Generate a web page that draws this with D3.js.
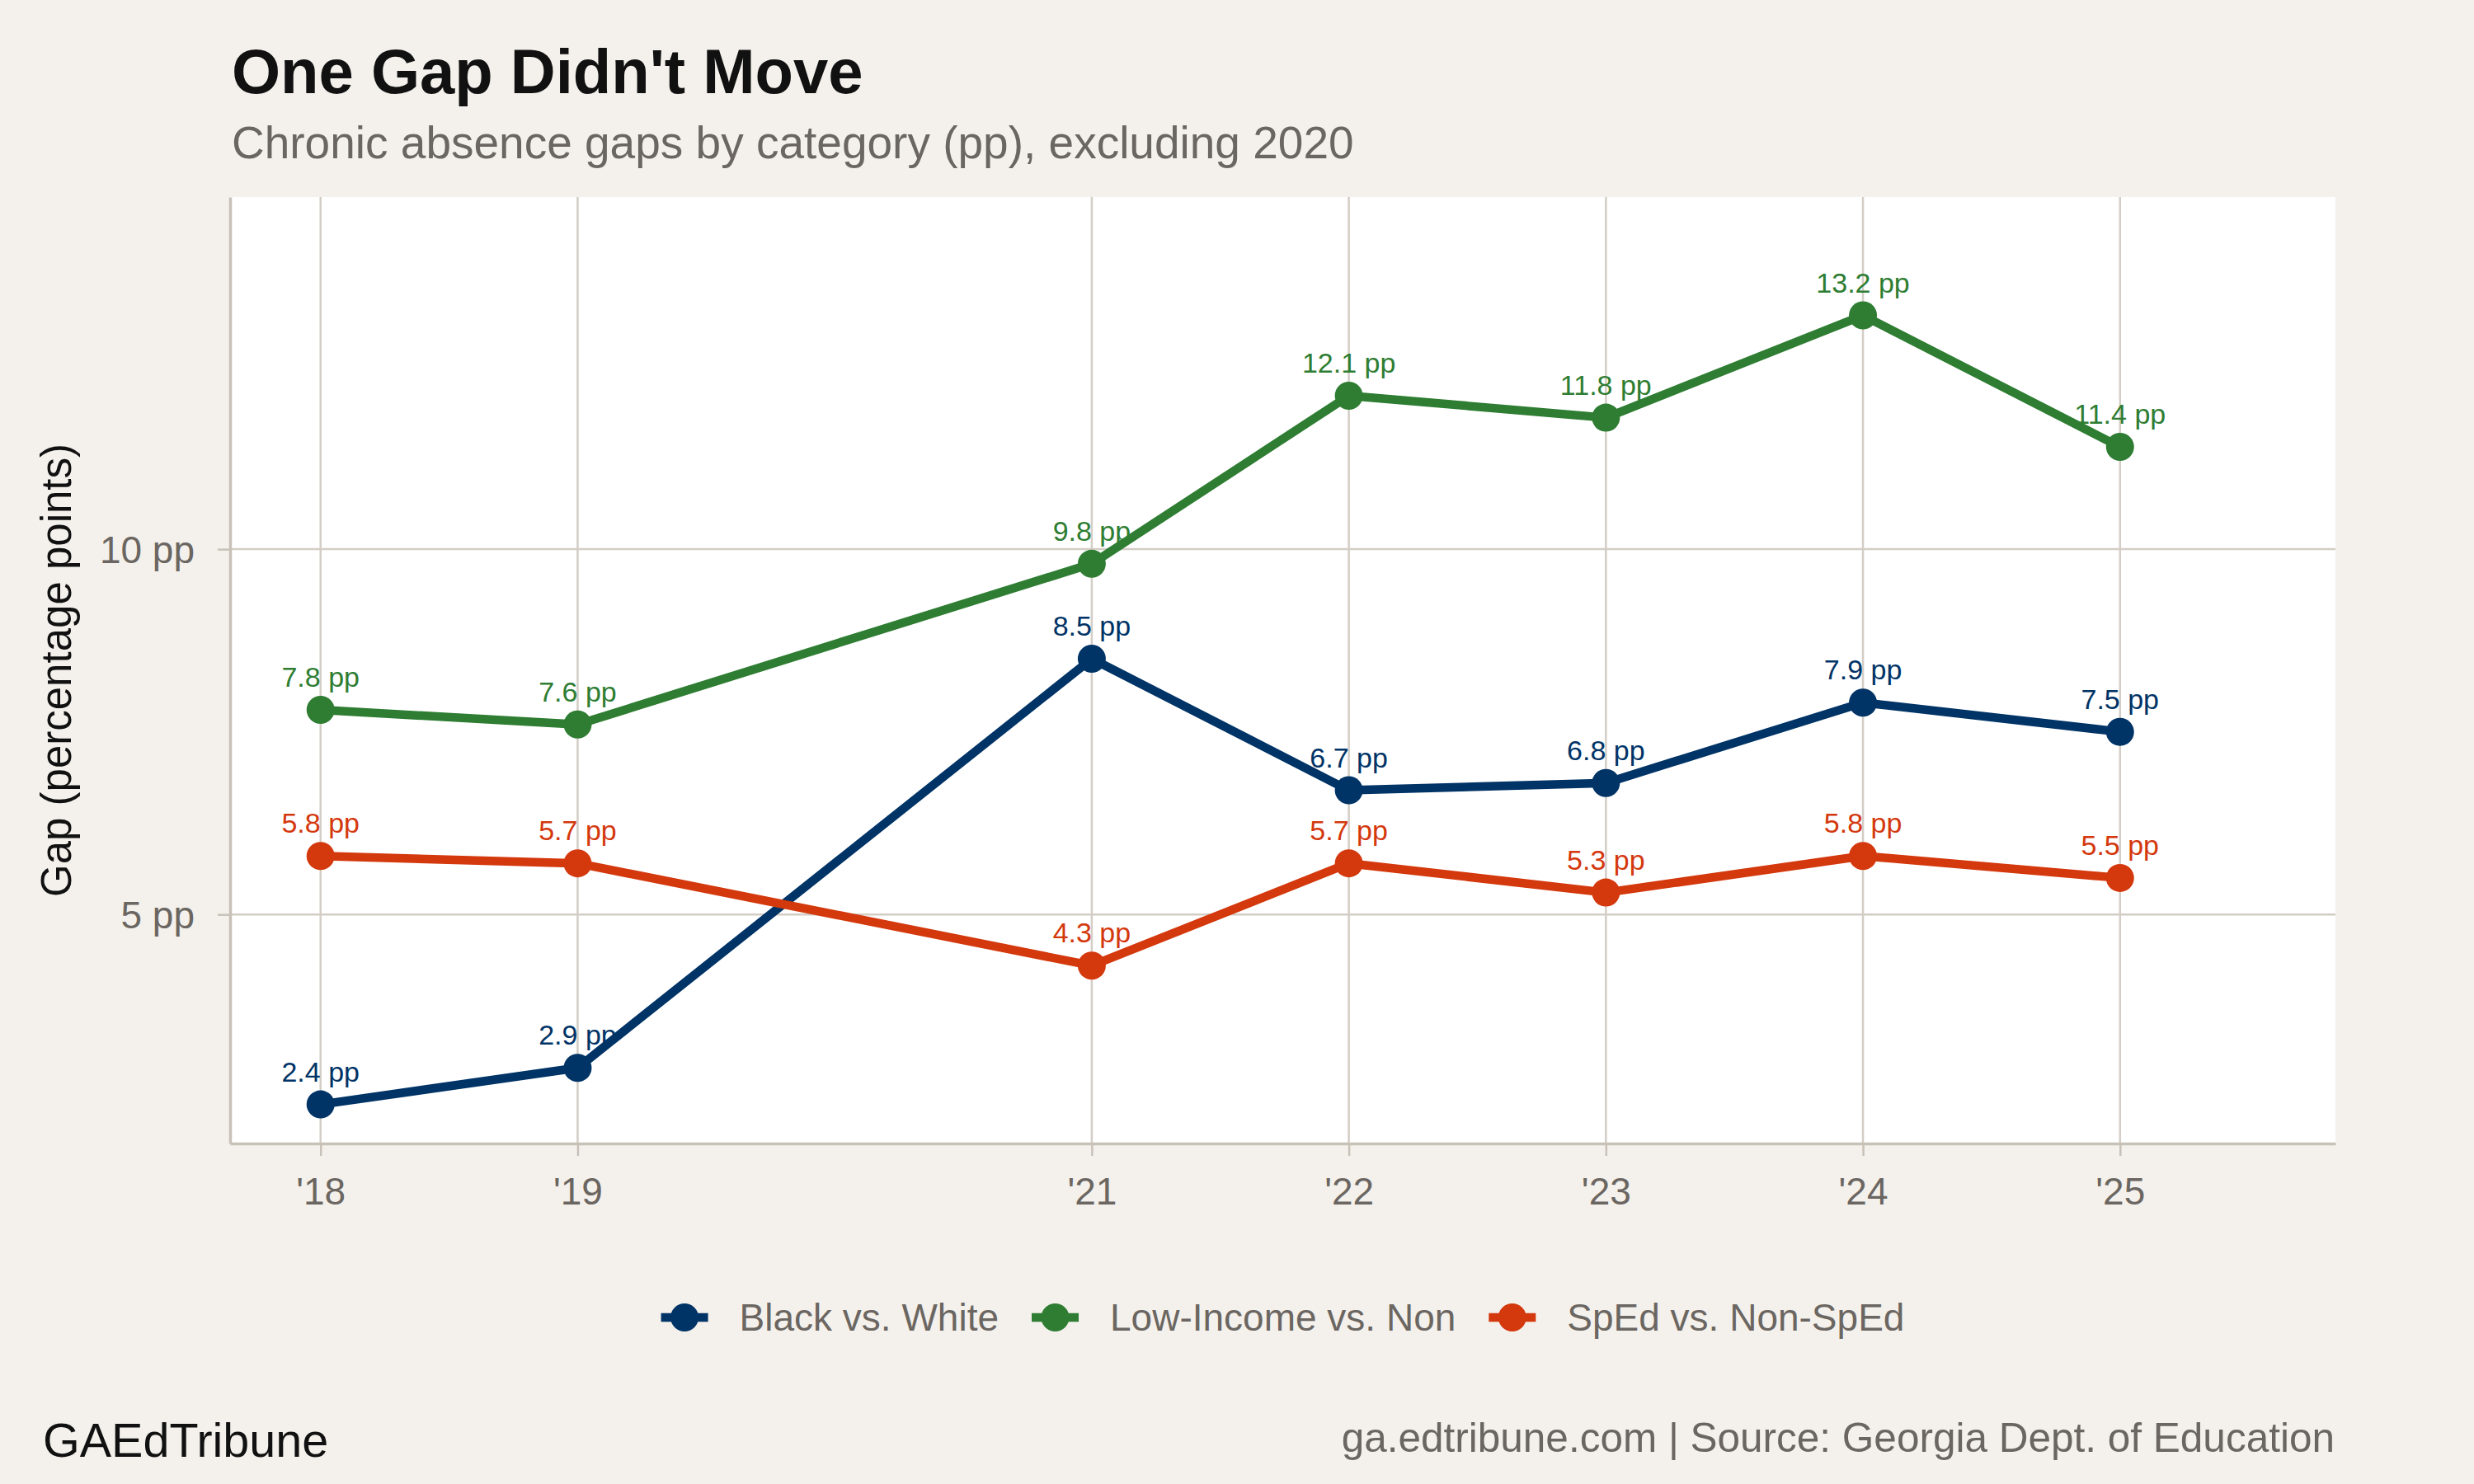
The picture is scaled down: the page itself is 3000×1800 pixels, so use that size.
<!DOCTYPE html>
<html>
<head>
<meta charset="utf-8">
<script src="https://cdn.jsdelivr.net/npm/d3@7"></script>
<style>
  body { margin: 0; background: #f4f1ec; }
  svg { display: block; font-family: "Liberation Sans", Arial, Helvetica, sans-serif; }
</style>
</head>
<body>
<div id="chart"></div>
<script>
// data
const years = [2018, 2019, 2021, 2022, 2023, 2024, 2025];
const yearLabels = ["'18", "'19", "'21", "'22", "'23", "'24", "'25"];
const blackWhite = [2.4, 2.9, 8.5, 6.7, 6.8, 7.9, 7.5];
const lowIncome = [7.8, 7.6, 9.8, 12.1, 11.8, 13.2, 11.4];
const sped = [5.8, 5.7, 4.3, 5.7, 5.3, 5.8, 5.5];
const seriesNames = ["Black vs. White", "Low-Income vs. Non", "SpEd vs. Non-SpEd"];
const seriesColors = ["#003366", "#2e7d32", "#d4380d"];
const yTicks = [5, 10];

const width = 3000, height = 1800;
const panel = {left: 279, right: 2832, top: 239, bottom: 1387};

const svg = d3.select("#chart").append("svg")
    .attr("width", width)
    .attr("height", height);

svg.append("rect").attr("width", width).attr("height", height).attr("fill", "#f4f1ec");

const x = d3.scaleLinear().domain([2017.648, 2025.838]).range([panel.left, panel.right]);
const y = d3.scaleLinear().domain([1.865, 14.82]).range([panel.bottom, panel.top]);

// panel
svg.append("rect")
    .attr("x", panel.left).attr("y", panel.top)
    .attr("width", panel.right - panel.left).attr("height", panel.bottom - panel.top)
    .attr("fill", "#ffffff");

// grid
const grid = svg.append("g");
grid.selectAll(".vg").data(years).enter().append("line")
    .attr("x1", d => x(d)).attr("x2", d => x(d))
    .attr("y1", panel.top).attr("y2", panel.bottom)
    .attr("stroke", "#d3cdc5").attr("stroke-width", 2.5);
grid.selectAll(".hg").data(yTicks).enter().append("line")
    .attr("x1", panel.left).attr("x2", panel.right)
    .attr("y1", d => y(d)).attr("y2", d => y(d))
    .attr("stroke", "#d3cdc5").attr("stroke-width", 2.5);

// axes
const xAxis = svg.append("g")
    .attr("transform", `translate(0,${panel.bottom})`)
    .call(d3.axisBottom(x).tickValues(years).tickFormat((d, i) => yearLabels[i])
        .tickSizeInner(15).tickSizeOuter(0).tickPadding(26));
const yAxis = svg.append("g")
    .attr("transform", `translate(${panel.left},0)`)
    .call(d3.axisLeft(y).tickValues(yTicks).tickFormat(d => d + " pp")
        .tickSizeInner(15).tickSizeOuter(0).tickPadding(28));

[xAxis, yAxis].forEach(a => {
    a.select(".domain").attr("stroke", "#c8c1b8").attr("stroke-width", 3.5);
    a.selectAll(".tick line").attr("stroke", "#c8c1b8").attr("stroke-width", 2.5);
    a.selectAll(".tick text")
        .attr("fill", "#6b6661")
        .attr("font-size", 46)
        .attr("font-family", "Liberation Sans, Arial, sans-serif");
});
yAxis.selectAll(".tick text").attr("dy", "0.36em");
xAxis.selectAll(".tick text").attr("dy", "0.71em");

// y axis title
svg.append("text")
    .attr("transform", `translate(${69 + 17},${(panel.top + panel.bottom) / 2}) rotate(-90)`)
    .attr("text-anchor", "middle")
    .attr("font-size", 51)
    .attr("fill", "#111")
    .text("Gap (percentage points)");

// lines
const allSeries = [blackWhite, lowIncome, sped];
const line = d3.line().x((d, i) => x(years[i])).y(d => y(d));

allSeries.forEach((vals, s) => {
    svg.append("path")
        .datum(vals)
        .attr("d", line)
        .attr("fill", "none")
        .attr("stroke", seriesColors[s])
        .attr("stroke-width", 10.5)
        .attr("stroke-linejoin", "round");
});
allSeries.forEach((vals, s) => {
    svg.selectAll(".pt" + s).data(vals).enter().append("circle")
        .attr("cx", (d, i) => x(years[i]))
        .attr("cy", d => y(d))
        .attr("r", 17)
        .attr("fill", seriesColors[s]);
});
allSeries.forEach((vals, s) => {
    svg.selectAll(".lb" + s).data(vals).enter().append("text")
        .attr("x", (d, i) => x(years[i]))
        .attr("y", d => y(d) - 28)
        .attr("text-anchor", "middle")
        .attr("font-size", 34)
        .attr("fill", seriesColors[s])
        .text(d => d.toFixed(1) + " pp");
});

// legend, centred under panel
const legend = svg.append("g");
const legY = 1598;
let cx = 0;
seriesNames.forEach((name, i) => {
    const g = legend.append("g");
    g.append("line").attr("x1", 0).attr("x2", 57).attr("y1", legY).attr("y2", legY)
        .attr("stroke", seriesColors[i]).attr("stroke-width", 10.5);
    g.append("circle").attr("cx", 28.5).attr("cy", legY).attr("r", 17).attr("fill", seriesColors[i]);
    const t = g.append("text").attr("x", 95).attr("y", legY + 16)
        .attr("font-size", 46).attr("fill", "#6b6661").text(name);
    const w = 95 + t.node().getComputedTextLength();
    g.attr("transform", `translate(${cx},0)`);
    cx += w + 40;
});
const legW = cx - 40;
legend.attr("transform", `translate(${(panel.left + panel.right) / 2 - legW / 2},0)`);

// titles
svg.append("text").attr("x", 281).attr("y", 113)
    .attr("font-size", 76).attr("font-weight", "bold").attr("fill", "#111")
    .text("One Gap Didn't Move");
svg.append("text").attr("x", 281).attr("y", 192)
    .attr("font-size", 55).attr("fill", "#6b6661")
    .text("Chronic absence gaps by category (pp), excluding 2020");

// captions
svg.append("text").attr("x", 52).attr("y", 1767)
    .attr("font-size", 57.5).attr("fill", "#111")
    .text("GAEdTribune");
svg.append("text").attr("x", 2831).attr("y", 1761)
    .attr("text-anchor", "end")
    .attr("font-size", 49.5).attr("fill", "#6b6661")
    .text("ga.edtribune.com | Source: Georgia Dept. of Education");
</script>
</body>
</html>
